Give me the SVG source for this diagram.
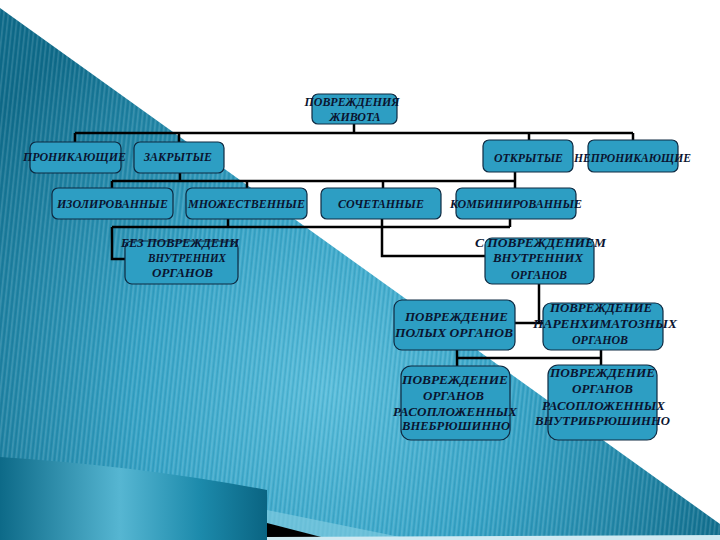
<svg xmlns="http://www.w3.org/2000/svg" width="720" height="540" viewBox="0 0 720 540">
  <defs>
    <radialGradient id="tealBg" gradientUnits="userSpaceOnUse" cx="330" cy="390" r="430">
      <stop offset="0" stop-color="#58bddb"/>
      <stop offset="0.45" stop-color="#36a3c6"/>
      <stop offset="1" stop-color="#0f6b8a"/>
    </radialGradient>
    <pattern id="stripes" patternUnits="userSpaceOnUse" width="4.5" height="20" patternTransform="rotate(6)">
      <rect x="0" y="0" width="1.6" height="20" fill="#ffffff" fill-opacity="0.13"/>
      <rect x="2.6" y="0" width="1" height="20" fill="#003850" fill-opacity="0.10"/>
    </pattern>
    <linearGradient id="curl" x1="0" y1="0" x2="1" y2="0">
      <stop offset="0" stop-color="#0d6a88"/>
      <stop offset="0.45" stop-color="#56b6d2"/>
      <stop offset="0.75" stop-color="#1c8aab"/>
      <stop offset="1" stop-color="#0a6482"/>
    </linearGradient>
    <style>
      .box { fill: #2d9ec3; stroke: #0e2a42; stroke-width: 1.2; }
      .lbl { font-family: "Liberation Serif", "Times New Roman", serif; font-weight: bold; font-style: italic; font-size: 12.5px; fill: #0a1430; text-anchor: middle; }
      .conn { fill: none; stroke: #000000; stroke-width: 2.5; stroke-linejoin: miter; }
    </style>
  </defs>

  <!-- background -->
  <rect x="0" y="0" width="720" height="540" fill="#ffffff"/>
  <polygon points="0,8 720,524 720,540 0,540" fill="url(#tealBg)"/>
  <polygon points="0,8 720,524 720,540 0,540" fill="url(#stripes)"/>
  <path d="M0,457 Q140,466 267,490 L267,540 L0,540 Z" fill="url(#curl)"/>
  <polygon points="267,510 400,537 267,537" fill="#7dcbe0" fill-opacity="0.7"/>
  <polygon points="267,523 325,538 267,540" fill="#000000"/>
  <polygon points="267,537 720,535 720,540 267,540" fill="#cfeaf2"/>

  <!-- connectors -->
  <g id="connectors">
    <path class="conn" d="M354,124 V133 M75,133 H633 M75,133 V142 M179,133 V142 M529,133 V140 M633,133 V140"/>
    <path class="conn" d="M180,173 V181 M515,172 V181 M112,181 H515 M112,181 V188 M247,181 V188 M383,181 V188 M515,181 V188"/>
    <path class="conn" d="M228,219 V227 M382,219 V227 M510,219 V227 M112,227 H510"/>
    <path class="conn" d="M112,227 V259 H125 M382,227 V256 H485"/>
    <path class="conn" d="M539,284 V323 M515,323 H543"/>
    <path class="conn" d="M457,350 V366 M601,350 V365 M457,358 H601"/>
  </g>

  <!-- nodes -->
  <g id="n-root">
    <rect class="box" x="312" y="94" width="85" height="30" rx="6"/>
    <text class="lbl" x="352" y="106.2" textLength="95" lengthAdjust="spacingAndGlyphs">ПОВРЕЖДЕНИЯ</text>
    <text class="lbl" x="355" y="121.2" textLength="51" lengthAdjust="spacingAndGlyphs">ЖИВОТА</text>
  </g>
  <g id="n-pronik">
    <rect class="box" x="30" y="142" width="91" height="31" rx="6"/>
    <text class="lbl" x="74.5" y="161.2" textLength="103" lengthAdjust="spacingAndGlyphs">ПРОНИКАЮЩИЕ</text>
  </g>
  <g id="n-zakr">
    <rect class="box" x="134" y="142" width="90" height="31" rx="6"/>
    <text class="lbl" x="178" y="161.2" textLength="68" lengthAdjust="spacingAndGlyphs">ЗАКРЫТЫЕ</text>
  </g>
  <g id="n-otkr">
    <rect class="box" x="483" y="140" width="90" height="32" rx="6"/>
    <text class="lbl" x="528.5" y="162" textLength="69" lengthAdjust="spacingAndGlyphs">ОТКРЫТЫЕ</text>
  </g>
  <g id="n-nepronik">
    <rect class="box" x="588" y="140" width="90" height="32" rx="6"/>
    <text class="lbl" x="632.5" y="162" textLength="117" lengthAdjust="spacingAndGlyphs">НЕПРОНИКАЮЩИЕ</text>
  </g>
  <g id="n-izol">
    <rect class="box" x="52" y="188" width="121" height="31" rx="6"/>
    <text class="lbl" x="112.5" y="208.2" textLength="111" lengthAdjust="spacingAndGlyphs">ИЗОЛИРОВАННЫЕ</text>
  </g>
  <g id="n-mnozh">
    <rect class="box" x="186" y="188" width="121" height="31" rx="6"/>
    <text class="lbl" x="246.5" y="208.2" textLength="117" lengthAdjust="spacingAndGlyphs">МНОЖЕСТВЕННЫЕ</text>
  </g>
  <g id="n-sochet">
    <rect class="box" x="321" y="188" width="120" height="31" rx="6"/>
    <text class="lbl" x="381" y="208.2" textLength="86" lengthAdjust="spacingAndGlyphs">СОЧЕТАННЫЕ</text>
  </g>
  <g id="n-kombin">
    <rect class="box" x="456" y="188" width="120" height="31" rx="6"/>
    <text class="lbl" x="516" y="208.2" textLength="132" lengthAdjust="spacingAndGlyphs">КОМБИНИРОВАННЫЕ</text>
  </g>
  <g id="n-bez">
    <rect class="box" x="125" y="241" width="113" height="43" rx="7"/>
    <text class="lbl" x="180" y="247.2" textLength="118" lengthAdjust="spacingAndGlyphs">БЕЗ ПОВРЕЖДЕНИ</text>
    <text class="lbl" x="187" y="262.2" textLength="78" lengthAdjust="spacingAndGlyphs">ВНУТРЕННИХ</text>
    <text class="lbl" x="182.5" y="277.2" textLength="61" lengthAdjust="spacingAndGlyphs">ОРГАНОВ</text>
  </g>
  <g id="n-spovr">
    <rect class="box" x="485" y="238" width="109" height="46" rx="7"/>
    <text class="lbl" x="540.5" y="247.2" textLength="131" lengthAdjust="spacingAndGlyphs">С ПОВРЕЖДЕНИЕМ</text>
    <text class="lbl" x="538" y="262.2" textLength="90" lengthAdjust="spacingAndGlyphs">ВНУТРЕННИХ</text>
    <text class="lbl" x="539" y="279.2" textLength="56" lengthAdjust="spacingAndGlyphs">ОРГАНОВ</text>
  </g>
  <g id="n-polyh">
    <rect class="box" x="394" y="300" width="121" height="50" rx="8"/>
    <text class="lbl" x="456.5" y="321.2" textLength="103" lengthAdjust="spacingAndGlyphs">ПОВРЕЖДЕНИЕ</text>
    <text class="lbl" x="454" y="337.2" textLength="118" lengthAdjust="spacingAndGlyphs">ПОЛЫХ ОРГАНОВ</text>
  </g>
  <g id="n-parenh">
    <rect class="box" x="543" y="303" width="120" height="47" rx="8"/>
    <text class="lbl" x="601" y="312.2" textLength="102" lengthAdjust="spacingAndGlyphs">ПОВРЕЖДЕНИЕ</text>
    <text class="lbl" x="605" y="328.2" textLength="144" lengthAdjust="spacingAndGlyphs">ПАРЕНХИМАТОЗНЫХ</text>
    <text class="lbl" x="600" y="344.2" textLength="56" lengthAdjust="spacingAndGlyphs">ОРГАНОВ</text>
  </g>
  <g id="n-vnebr">
    <rect class="box" x="401" y="366" width="109" height="74" rx="10"/>
    <text class="lbl" x="455" y="384.2" textLength="106" lengthAdjust="spacingAndGlyphs">ПОВРЕЖДЕНИЕ</text>
    <text class="lbl" x="453.5" y="400.2" textLength="61" lengthAdjust="spacingAndGlyphs">ОРГАНОВ</text>
    <text class="lbl" x="455" y="416.2" textLength="124" lengthAdjust="spacingAndGlyphs">РАСОПЛОЖЕННЫХ</text>
    <text class="lbl" x="456" y="430.2" textLength="108" lengthAdjust="spacingAndGlyphs">ВНЕБРЮШИННО</text>
  </g>
  <g id="n-vnutr">
    <rect class="box" x="548" y="365" width="109" height="75" rx="10"/>
    <text class="lbl" x="602.5" y="377.2" textLength="105" lengthAdjust="spacingAndGlyphs">ПОВРЕЖДЕНИЕ</text>
    <text class="lbl" x="602.5" y="393.2" textLength="61" lengthAdjust="spacingAndGlyphs">ОРГАНОВ</text>
    <text class="lbl" x="603.5" y="410.2" textLength="123" lengthAdjust="spacingAndGlyphs">РАСОПЛОЖЕННЫХ</text>
    <text class="lbl" x="602.5" y="425.2" textLength="135" lengthAdjust="spacingAndGlyphs">ВНУТРИБРЮШИННО</text>
  </g>
</svg>
